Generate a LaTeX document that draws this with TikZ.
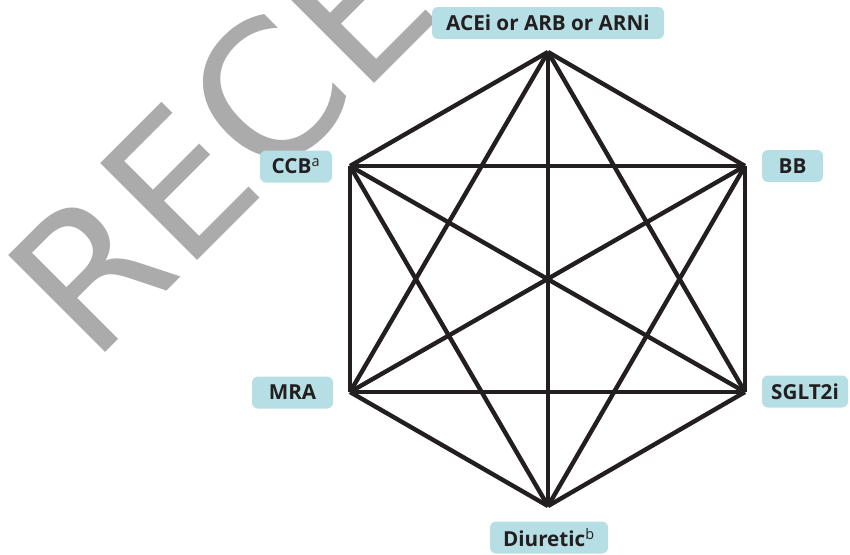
\documentclass[tikz,border=0pt]{standalone}
\usepackage{fontspec}
\setmainfont{Open Sans}
\newfontfamily\wmfont{DejaVu Sans}
\definecolor{boxblue}{RGB}{181,222,229}
\definecolor{ink}{RGB}{35,31,32}
\definecolor{wmgray}{RGB}{171,171,171}
\begin{document}
\begin{tikzpicture}[x=0.75pt,y=-0.75pt,
  edge/.style={draw=ink,line width=3.3pt},
  lbl/.style={fill=boxblue,rounded corners=4.5pt,minimum height=24pt,inner xsep=2pt,
    font=\bfseries\fontsize{15.5}{16}\selectfont,text=ink},
  wm/.style={text=wmgray,font=\wmfont\fontsize{141}{141}\selectfont,inner sep=0pt}]
\useasboundingbox (0,0) rectangle (850,554);
\begin{scope}
  \clip (0,0) rectangle (850,554);
  \node[wm,rotate=45,anchor=base west] (wm) at (92,366) {RECE};
\end{scope}
% vertices
\coordinate (vt) at (548,52);
\coordinate (vul) at (350,166);
\coordinate (vur) at (745,166);
\coordinate (vll) at (350,392);
\coordinate (vlr) at (745,392);
\coordinate (vb) at (548,506);
% edges (complete graph)
\foreach \a/\b in {vt/vul,vt/vur,vt/vll,vt/vlr,vt/vb,
                   vul/vur,vul/vll,vul/vlr,vul/vb,
                   vur/vll,vur/vlr,vur/vb,
                   vll/vlr,vll/vb,
                   vlr/vb}
  \draw[edge] (\a) -- (\b);
% labels
\node[lbl,minimum width=174pt] (acei) at (548,23) {ACEi or ARB or ARNi};
\node[lbl,minimum width=54pt] (ccb) at (296,166.5) {CCB\textsuperscript{\mdseries a}};
\node[lbl,minimum width=45.75pt] (bb) at (792.5,166) {BB};
\node[lbl,minimum width=60.75pt] (mra) at (292.5,392.5) {MRA};
\node[lbl,minimum width=64.5pt] (sglt) at (805,391.5) {SGLT2i};
\node[lbl,minimum width=88.5pt] (diur) at (549,537.5) {Diuretic\textsuperscript{\mdseries b}};
\end{tikzpicture}
\end{document}
